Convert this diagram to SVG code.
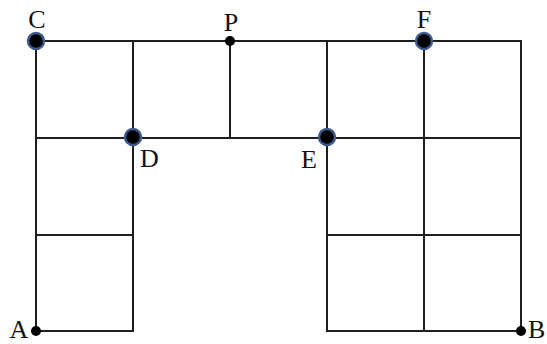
<svg xmlns="http://www.w3.org/2000/svg" width="547" height="344" viewBox="0 0 547 344">
<style>
.ln{stroke:#1e1e1e;stroke-width:2;fill:none;stroke-linecap:square}
.big{fill:#000;stroke:#3d5a8c;stroke-width:2.5}
.sm{fill:#000}
text{font-family:"Liberation Serif","Times New Roman",serif;font-size:26px;fill:#111}
</style>
<rect width="547" height="344" fill="#fff"/>
<g id="connectors" class="ln">
<line x1="36" y1="41" x2="521" y2="41"/>
<line x1="36" y1="138" x2="521" y2="138"/>
<line x1="36" y1="235" x2="133" y2="235"/>
<line x1="327" y1="235" x2="521" y2="235"/>
<line x1="36" y1="331" x2="133" y2="331"/>
<line x1="327" y1="331" x2="521" y2="331"/>
<line x1="36" y1="41" x2="36" y2="331"/>
<line x1="133" y1="41" x2="133" y2="331"/>
<line x1="230" y1="41" x2="230" y2="138"/>
<line x1="327" y1="41" x2="327" y2="331"/>
<line x1="424" y1="41" x2="424" y2="331"/>
<line x1="521" y1="41" x2="521" y2="331"/>
</g>
<g id="C"><circle class="big" cx="36" cy="41" r="8"/><text x="37" y="28" text-anchor="middle">C</text></g>
<g id="P"><circle class="sm" cx="230" cy="41" r="5"/><text x="231" y="31" text-anchor="middle">P</text></g>
<g id="F"><circle class="big" cx="424" cy="41" r="8"/><text x="424" y="28" text-anchor="middle">F</text></g>
<g id="D"><circle class="big" cx="133" cy="137" r="8"/><text x="140" y="167">D</text></g>
<g id="E"><circle class="big" cx="327" cy="137" r="8"/><text x="309" y="168" text-anchor="middle">E</text></g>
<g id="A"><circle class="sm" cx="36" cy="331" r="5"/><text x="19" y="338" text-anchor="middle">A</text></g>
<g id="B"><circle class="sm" cx="521" cy="331" r="5"/><text x="528" y="338">B</text></g>
</svg>
